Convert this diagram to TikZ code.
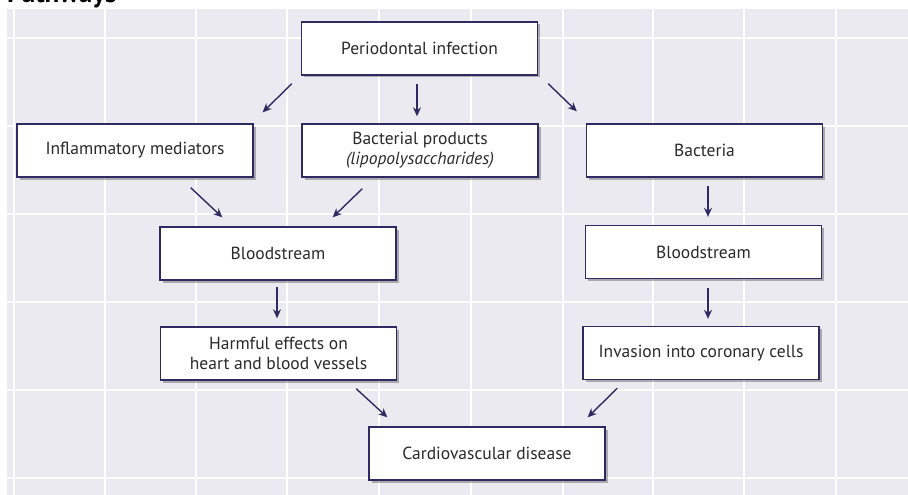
\documentclass[tikz,border=0pt]{standalone}
\usepackage{fontspec}
\setmainfont{PT Sans}
\usetikzlibrary{arrows.meta,shadows}
\definecolor{bgcol}{HTML}{EBEAF1}
\definecolor{navy}{HTML}{2F2A62}
\definecolor{txt}{HTML}{2A2A2A}
\tikzset{
  box/.style={draw=navy, line width=1.3pt, fill=white, minimum width=236pt, minimum height=53pt,
    inner sep=0pt, align=center, text=txt, font=\fontsize{17.5}{20}\selectfont,
    drop shadow={shadow xshift=2.5pt, shadow yshift=-2.5pt, fill=black, opacity=0.28}},
  arr/.style={draw=navy, line width=1.4pt, -{Stealth[length=9pt,width=8pt]}},
  gridline/.style={draw=white, line width=2pt}
}
\begin{document}
\begin{tikzpicture}[x=1pt,y=-1pt]
\useasboundingbox (0,0) rectangle (908,495);
% background
\fill[bgcol] (7,9) rectangle (908,495);
\foreach \gx in {14,105,196,287,379,471,563,653,744,836}
  \draw[gridline] (\gx,9) -- (\gx,495);
\foreach \gy in {38,126,214,302,390,478}
  \draw[gridline] (7,\gy) -- (908,\gy);
% title (cut off at the top, as in the reference)
\node[anchor=base west, inner sep=0pt, font=\fontsize{27}{30}\selectfont\bfseries] (title) at (7,3) {Pathways};
% boxes
\node[box] (p)  at (419.5,48.5) {Periodontal infection};
\node[box] (im) at (135,150.5) {Inflammatory mediators};
\node[box] (bp) at (420,150.5) {Bacterial products\\\textit{(lipopolysaccharides)}};
\node[box] (ba) at (704.5,150.5) {Bacteria};
\node[box] (bl) at (278,253.5) {Bloodstream};
\node[box] (br) at (703.5,252) {Bloodstream};
\node[box] (hf) at (278.5,353.5) {Harmful effects on\\heart and blood vessels};
\node[box] (iv) at (701,353) {Invasion into coronary cells};
\node[box] (cv) at (487,453.5) {Cardiovascular disease};
% arrows
\draw[arr] ([shift={(-9,8)}]p.south west) -- ([shift={(9,-11)}]im.north east);
\draw[arr] ([shift={(-2.5,8)}]p.south) -- ([shift={(-3,-7)}]bp.north);
\draw[arr] ([shift={(10,8)}]p.south east) -- ([shift={(-9,-12)}]ba.north west);
\draw[arr] ([shift={(-63,10)}]im.south east) -- ([shift={(63,-9)}]bl.north west);
\draw[arr] ([shift={(61,11)}]bp.south west) -- ([shift={(-64,-9)}]bl.north east);
\draw[arr] ([shift={(-1,6)}]bl.south) -- ([shift={(-1.5,-8)}]hf.north);
\draw[arr] ([shift={(3.5,8)}]ba.south) -- ([shift={(4.5,-8)}]br.north);
\draw[arr] ([shift={(4.5,9)}]br.south) -- ([shift={(7,-7)}]iv.north);
\draw[arr] ([shift={(-41,8)}]hf.south east) -- ([shift={(19,-9)}]cv.north west);
\draw[arr] ([shift={(35,8)}]iv.south west) -- ([shift={(-18,-9)}]cv.north east);
\end{tikzpicture}
\end{document}
